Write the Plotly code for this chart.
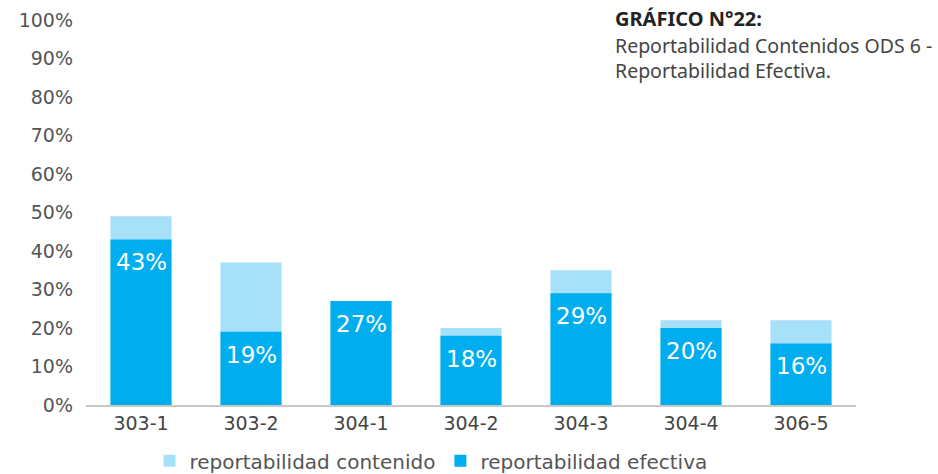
import plotly.graph_objects as go

categories = ["303-1", "303-2", "304-1", "304-2", "304-3", "304-4", "306-5"]
contenido = [49, 37, 27, 20, 35, 22, 22]
efectiva = [43, 19, 27, 18, 29, 20, 16]
y_ticks = [0, 10, 20, 30, 40, 50, 60, 70, 80, 90, 100]

LIGHT = "#A6E1F9"
DARK = "#00AEEF"
FONT = "DejaVu Sans"

fig = go.Figure()
fig.add_trace(go.Bar(
    x=categories, y=[v / 100 for v in contenido], name="reportabilidad contenido",
    marker=dict(color=LIGHT, line=dict(width=0)), width=0.555,
))
fig.add_trace(go.Bar(
    x=categories, y=[v / 100 for v in efectiva], name="reportabilidad efectiva",
    marker=dict(color=DARK, line=dict(width=0)), width=0.555,
))

for c, v in zip(categories, efectiva):
    fig.add_annotation(x=c, y=v / 100, text=f"{v}%", showarrow=False,
                       yanchor="middle", yshift=-23,
                       font=dict(family=FONT, size=23, color="white"))

fig.add_annotation(xref="paper", yref="paper", x=0.684, y=1.005, xanchor="left", yanchor="middle",
                   text="<b>GRÁFICO N°22:</b>", showarrow=False,
                   font=dict(family="Noto Sans", size=20, color="#222222"))
fig.add_annotation(xref="paper", yref="paper", x=0.684, y=0.935, xanchor="left", yanchor="middle",
                   text="Reportabilidad Contenidos ODS 6 -", showarrow=False,
                   font=dict(family="Noto Sans", size=19.5, color="#444444"))
fig.add_annotation(xref="paper", yref="paper", x=0.684, y=0.870, xanchor="left", yanchor="middle",
                   text="Reportabilidad Efectiva.", showarrow=False,
                   font=dict(family="Noto Sans", size=19.5, color="#444444"))

fig.update_layout(
    width=938, height=474,
    margin=dict(l=86, r=82, t=20, b=69, autoexpand=False),
    barmode="overlay",
    plot_bgcolor="white", paper_bgcolor="white",
    font=dict(family=FONT, size=19, color="#555555"),
    legend=dict(orientation="h", x=0.448, xanchor="center", y=-0.145, yanchor="middle",
                font=dict(family=FONT, size=20, color="#555555"), traceorder="normal",
                itemwidth=30),
    showlegend=True,
)
fig.update_xaxes(showline=True, linecolor="#c8c8c8", linewidth=1.5, showgrid=False, automargin=False,
                 ticks="", ticklabelstandoff=0, tickfont=dict(family=FONT, size=19, color="#444444"))
fig.update_yaxes(range=[0, 1], tickvals=[t / 100 for t in y_ticks], automargin=False,
                 ticktext=[f"{t}%" for t in y_ticks], showgrid=False, zeroline=False,
                 showline=False, ticks="", ticklabelstandoff=12,
                 tickfont=dict(family=FONT, size=19, color="#555555"))

fig.write_html("out.html", config={"displayModeBar": False},
               post_script="document.body.style.margin='0';document.body.style.overflow='hidden';")
